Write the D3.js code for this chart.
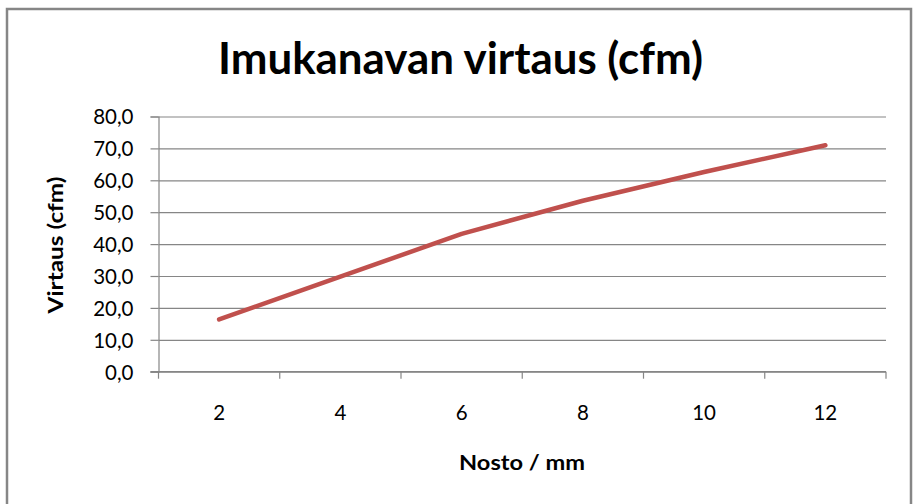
<!DOCTYPE html>
<html>
<head>
<meta charset="utf-8">
<script src="https://cdn.jsdelivr.net/npm/d3@7"></script>
<style>
  html, body { margin: 0; padding: 0; background: #fff; }
  svg { display: block; }
</style>
</head>
<body>
<svg id="chart" width="915" height="504"></svg>
<script>
const categories = ["2", "4", "6", "8", "10", "12"];
const values = [16.4, 29.8, 43.2, 53.6, 62.6, 71.0];
const yTicks = [0, 10, 20, 30, 40, 50, 60, 70, 80];
const title = "Imukanavan virtaus (cfm)";
const xTitle = "Nosto / mm";
const yTitle = "Virtaus (cfm)";

(function () {
const svg = d3.select("#chart");
const FONT = "Lato, 'Open Sans', sans-serif";
const GRID = "#868686";

const pL = 158.5, pR = 886, pT = 116.5, pB = 371.7;

// outer frame
svg.append("rect")
  .attr("x", 7).attr("y", 9).attr("width", 904).attr("height", 520)
  .attr("fill", "#fff").attr("stroke", GRID).attr("stroke-width", 2.5);

const x = d3.scaleBand().domain(categories).range([pL, pR]).padding(0);
const y = d3.scaleLinear().domain([0, 80]).range([pB, pT]);

// gridlines
svg.append("g")
  .attr("transform", `translate(${pL},0)`)
  .call(d3.axisLeft(y).tickValues(yTicks).tickSize(-(pR - pL)).tickFormat(""))
  .call(g => g.select(".domain").remove())
  .call(g => g.selectAll(".tick line").attr("stroke", GRID).attr("stroke-width", 1.2));

// y axis
svg.append("g")
  .attr("transform", `translate(${pL},0)`)
  .call(d3.axisLeft(y).tickValues(yTicks).tickSize(8).tickPadding(17)
    .tickFormat(d => d3.format(".1f")(d).replace(".", ",")))
  .call(g => g.select(".domain").attr("stroke", GRID).attr("stroke-width", 1.2))
  .call(g => g.selectAll(".tick line").attr("stroke", GRID).attr("stroke-width", 1.2))
  .call(g => g.selectAll(".tick text")
    .attr("font-family", FONT).attr("font-size", 20.5).attr("fill", "#000").attr("dy", "0.36em"));

// x axis
const xg = svg.append("g").attr("transform", `translate(0,${pB})`);
xg.append("line")
  .attr("x1", pL - 8).attr("x2", pR).attr("y1", 0).attr("y2", 0)
  .attr("stroke", GRID).attr("stroke-width", 1.2);
const bounds = categories.map(c => x(c)).concat([x(categories[categories.length - 1]) + x.bandwidth()]);
xg.selectAll("line.bt").data(bounds).join("line")
  .attr("class", "bt")
  .attr("x1", d => d).attr("x2", d => d).attr("y1", 0).attr("y2", 7)
  .attr("stroke", GRID).attr("stroke-width", 1.2);
xg.append("g")
  .call(d3.axisBottom(x).tickSize(0).tickPadding(0))
  .call(g => g.select(".domain").remove())
  .call(g => g.selectAll(".tick text")
    .attr("font-family", FONT).attr("font-size", 20.5).attr("fill", "#000")
    .attr("dy", null).attr("y", 48.5));

// line
const data = categories.map((c, i) => ({ c, v: values[i] }));
svg.append("path")
  .datum(data)
  .attr("fill", "none")
  .attr("stroke", "#C0504D")
  .attr("stroke-width", 4.5)
  .attr("stroke-linecap", "round")
  .attr("stroke-linejoin", "round")
  .attr("d", d3.line().x(d => x(d.c) + x.bandwidth() / 2).y(d => y(d.v)));

// title
svg.append("text")
  .attr("x", 460.5).attr("y", 74)
  .attr("text-anchor", "middle")
  .attr("font-family", FONT).attr("font-weight", "bold").attr("font-size", 44)
  .attr("textLength", 485).attr("lengthAdjust", "spacingAndGlyphs")
  .text(title);

// x title
svg.append("text")
  .attr("x", 522).attr("y", 470)
  .attr("text-anchor", "middle")
  .attr("font-family", FONT).attr("font-weight", "bold").attr("font-size", 20)
  .attr("textLength", 126).attr("lengthAdjust", "spacingAndGlyphs")
  .text(xTitle);

// y title
svg.append("text")
  .attr("transform", "translate(63,245) rotate(-90)")
  .attr("text-anchor", "middle")
  .attr("font-family", FONT).attr("font-weight", "bold").attr("font-size", 20)
  .attr("textLength", 137).attr("lengthAdjust", "spacingAndGlyphs")
  .text(yTitle);
})();
</script>
</body>
</html>
